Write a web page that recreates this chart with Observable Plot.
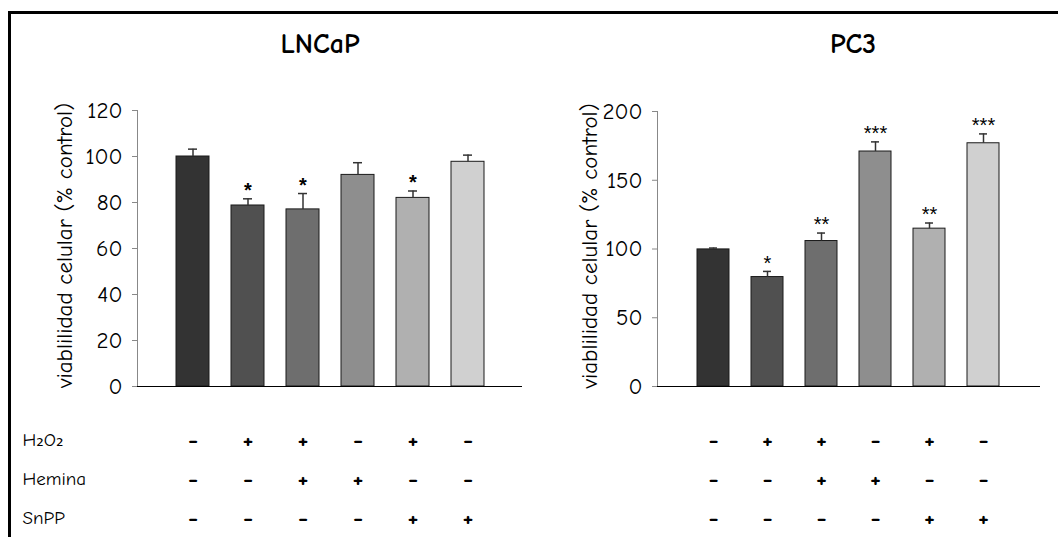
<!DOCTYPE html>
<html><head><meta charset="utf-8">
<script src="https://cdn.jsdelivr.net/npm/d3@7"></script>
<script src="https://cdn.jsdelivr.net/npm/@observablehq/plot@0.6"></script>
<style>
body{margin:0;background:#fff;}
#fig{position:relative;width:1058px;height:537px;overflow:hidden;background:#fff;}
#border{position:absolute;left:8px;top:11px;width:1070px;height:560px;border-top:3px solid #000;border-left:3px solid #000;}
.panel{position:absolute;}
</style></head><body>
<div id="fig"><div id="border"></div></div>
<script>
// ---- data ----
const conditions = ["Control", "H2O2", "H2O2+Hemina", "Hemina", "H2O2+SnPP", "SnPP"];
const barFills = ["#333333", "#505050", "#6e6e6e", "#8e8e8e", "#b0b0b0", "#d0d0d0"];

const lncapValues = [100, 78.7, 77, 92, 82, 97.7];
const lncapErrors = [3.2, 2.9, 6.9, 5.3, 3.0, 2.9];
const lncapSig = ["", "*", "*", "", "*", ""];
const lncapTicks = [0, 20, 40, 60, 80, 100, 120];

const pc3Values = [99.7, 79.6, 105.8, 170.9, 114.8, 176.9];
const pc3Errors = [1.0, 4.1, 5.8, 7.0, 4.1, 6.8];
const pc3Sig = ["", "*", "**", "***", "**", "***"];
const pc3Ticks = [0, 50, 100, 150, 200];

const rowLabels = ["H\u2082O\u2082", "Hemina", "SnPP"];
const h2o2Signs = ["-", "+", "+", "-", "+", "-"];
const heminaSigns = ["-", "-", "+", "+", "-", "-"];
const snppSigns = ["-", "-", "-", "-", "+", "+"];

const yLabel = "viablilidad celular (% control)";
const titles = ["LNCaP", "PC3"];

// ---- drawing ----
const fig = document.getElementById("fig");
const comicFont = "'Comic Sans MS', 'Comic Neue', 'DejaVu Sans', sans-serif";

function chart(cfg) {
  const data = conditions.map((c, i) => ({
    c, v: cfg.values[i], top: cfg.values[i] + cfg.errors[i], s: cfg.sig[i], f: barFills[i]
  }));
  return Plot.plot({
    width: cfg.width, height: 380,
    marginLeft: cfg.ml, marginRight: cfg.mr, marginTop: cfg.mt, marginBottom: 14,
    style: {fontFamily: comicFont, fontSize: "23px", background: "transparent", overflow: "visible", color: "#000"},
    x: {type: "band", domain: conditions, paddingInner: 0.4, paddingOuter: 0.7, axis: null},
    y: {domain: [0, cfg.max], axis: null},
    color: {type: "identity"},
    marks: [
      Plot.axisY({ticks: cfg.ticks, tickSize: 5, tickPadding: 10, stroke: "#888", fill: "#000", label: null}),
      Plot.frame({anchor: "left", stroke: "#888"}),
      Plot.barY(data, {x: "c", y: "v", fill: "f", stroke: "#1a1a1a", strokeWidth: 1}),
      Plot.ruleX(data, {x: "c", y1: "v", y2: "top", stroke: "#333", strokeWidth: 1.5}),
      Plot.tickY(data, {x: "c", y: "top", stroke: "#333", strokeWidth: 1.5, insetLeft: 12, insetRight: 12}),
      Plot.ruleY([0], {stroke: "#000", strokeWidth: 1.2}),
      Plot.text(data, {x: "c", y: "top", text: "s", dy: -8, lineAnchor: "middle",
        fontFamily: "'Liberation Sans', Arial, sans-serif", fontSize: 20, fontWeight: cfg.starWeight}),
      Plot.text([cfg.title], {frameAnchor: "top", lineAnchor: "middle", textAnchor: "middle", dy: 44 - (20 + cfg.mt), dx: cfg.titleDx,
        fontWeight: "bold", fontSize: 28}),
      Plot.text([yLabel], {frameAnchor: "left", rotate: -90, dx: cfg.labelDx, dy: -3, lineAnchor: "middle", textAnchor: "middle", fontSize: 23})
    ]
  });
}

function table(cfg) {
  const signs = [h2o2Signs, heminaSigns, snppSigns];
  const cells = rowLabels.flatMap((r, ri) => conditions.map((c, i) => ({r, c, s: signs[ri][i]})));
  return Plot.plot({
    width: cfg.width, height: 117,
    marginLeft: cfg.ml, marginRight: cfg.mr, marginTop: 0, marginBottom: 0,
    style: {fontFamily: comicFont, fontSize: "18px", background: "transparent", overflow: "visible", color: "#000"},
    x: {type: "band", domain: conditions, paddingInner: 0.4, paddingOuter: 0.7, axis: null},
    y: {type: "band", domain: rowLabels, padding: 0, axis: null},
    marks: [
      Plot.text(cells, {x: "c", y: "r", text: "s", fontWeight: "bold", fontSize: 25}),
      cfg.showLabels ? Plot.text(rowLabels, {y: d => d, text: d => d, frameAnchor: "left", textAnchor: "start",
        lineAnchor: "middle", dx: 22 - cfg.ml, fontSize: 19}) : null
    ]
  });
}

function place(node, left, top) {
  const d = document.createElement("div");
  d.className = "panel";
  d.style.left = left + "px";
  d.style.top = top + "px";
  d.appendChild(node);
  fig.appendChild(d);
}

const leftCfg = {width: 530, ml: 137, mr: 8, mt: 90, max: 120, ticks: lncapTicks,
  values: lncapValues, errors: lncapErrors, sig: lncapSig, title: titles[0], titleDx: -10, labelDx: -73, starWeight: "bold", showLabels: true};
const rightCfg = {width: 529, ml: 128, mr: 18, mt: 91, max: 200, ticks: pc3Ticks,
  values: pc3Values, errors: pc3Errors, sig: pc3Sig, title: titles[1], titleDx: 4, labelDx: -68, starWeight: "normal", showLabels: false};

place(chart(leftCfg), 0, 20);
place(chart(rightCfg), 529, 20);
place(table(leftCfg), 0, 420);
place(table(rightCfg), 529, 420);
</script>
</body></html>
